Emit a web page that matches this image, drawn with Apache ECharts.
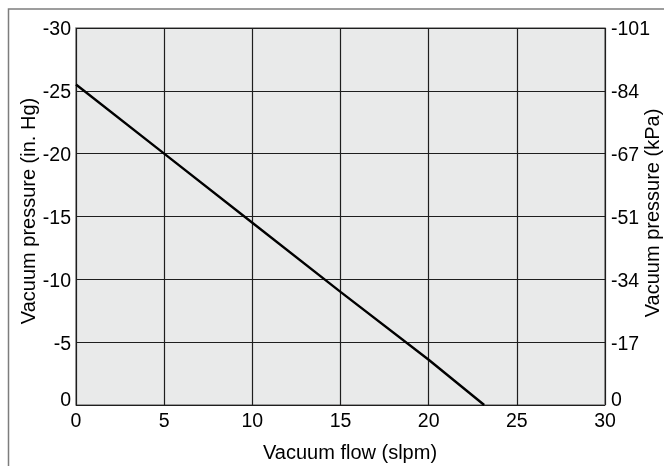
<!DOCTYPE html>
<html>
<head>
<meta charset="utf-8">
<script src="https://cdn.jsdelivr.net/npm/echarts@6/dist/echarts.min.js"></script>
<style>
html,body{margin:0;padding:0;background:#fff;}
#c{width:664px;height:466px;}
</style>
</head>
<body>
<div id="c"></div>
<script>
// Vacuum flow (slpm) vs vacuum pressure (in. Hg)
const flow = [0, 5, 10, 15, 20, 23.15];
const pressure = [-25.5, -20, -14.5, -9.0, -3.6, 0];
// right axis labels (kPa) matching left ticks -30, -25, ..., 0
const inHgTicks = [-30, -25, -20, -15, -10, -5, 0];
const kPaLabels = ['-101', '-84', '-67', '-51', '-34', '-17', '0'];

const FONT = '"Liberation Sans", Arial, Helvetica, sans-serif';
const chart = echarts.init(document.getElementById('c'));

const labelRich = {
  n: {fontFamily: FONT, fontSize: 19.5, color: '#000', padding: [4, 0, 0, 0]},
  z: {fontFamily: FONT, fontSize: 19.5, color: '#000', padding: [0, 0, 8, 0]}
};

chart.setOption({
  animation: false,
  backgroundColor: '#ffffff',
  grid: {
    left: 76, right: 59, top: 28, bottom: 61,
    show: true, backgroundColor: '#e9eaea', borderColor: '#7f7f7f', borderWidth: 1.5
  },
  xAxis: {
    type: 'value', min: 0, max: 30, interval: 5,
    axisLine: {show: false}, axisTick: {show: false},
    splitLine: {show: true, lineStyle: {color: '#1e1e1e', width: 1.2}},
    axisLabel: {fontFamily: FONT, fontSize: 19.5, color: '#000', margin: 7}
  },
  yAxis: [{
    type: 'value', min: -30, max: 0, interval: 5, inverse: true, position: 'left',
    axisLine: {show: false}, axisTick: {show: false},
    splitLine: {show: true, lineStyle: {color: '#1e1e1e', width: 1.2}},
    axisLabel: {
      margin: 5, rich: labelRich,
      formatter: v => v === 0 ? '{z|0}' : '{n|' + v + '}'
    }
  }, {
    type: 'value', min: -30, max: 0, interval: 5, inverse: true, position: 'right',
    axisLine: {show: false}, axisTick: {show: false}, splitLine: {show: false},
    axisLabel: {
      margin: 6, rich: labelRich,
      formatter: v => {
        const i = inHgTicks.indexOf(v);
        const t = i >= 0 ? kPaLabels[i] : '';
        return v === 0 ? '{z|' + t + '}' : '{n|' + t + '}';
      }
    }
  }],
  series: [{
    type: 'line',
    data: flow.map((f, i) => [f, pressure[i]]),
    showSymbol: false,
    lineStyle: {color: '#000', width: 2.4},
    z: 5
  }],
  graphic: [
    {type: 'rect', z: -1, shape: {x: 8.5, y: 9, width: 700, height: 500},
     style: {fill: 'none', stroke: '#7d7d7d', lineWidth: 1.5}},
    {type: 'text', x: 350, y: 453,
     style: {text: 'Vacuum flow (slpm)', font: '20px ' + FONT, fill: '#000', align: 'center', verticalAlign: 'middle'}},
    {type: 'text', x: 29, y: 211, rotation: Math.PI / 2,
     style: {text: 'Vacuum pressure (in. Hg)', font: '20px ' + FONT, fill: '#000', align: 'center', verticalAlign: 'middle'}},
    {type: 'text', x: 653, y: 213, rotation: Math.PI / 2,
     style: {text: 'Vacuum pressure (kPa)', font: '20px ' + FONT, fill: '#000', align: 'center', verticalAlign: 'middle'}}
  ]
});
</script>
</body>
</html>
